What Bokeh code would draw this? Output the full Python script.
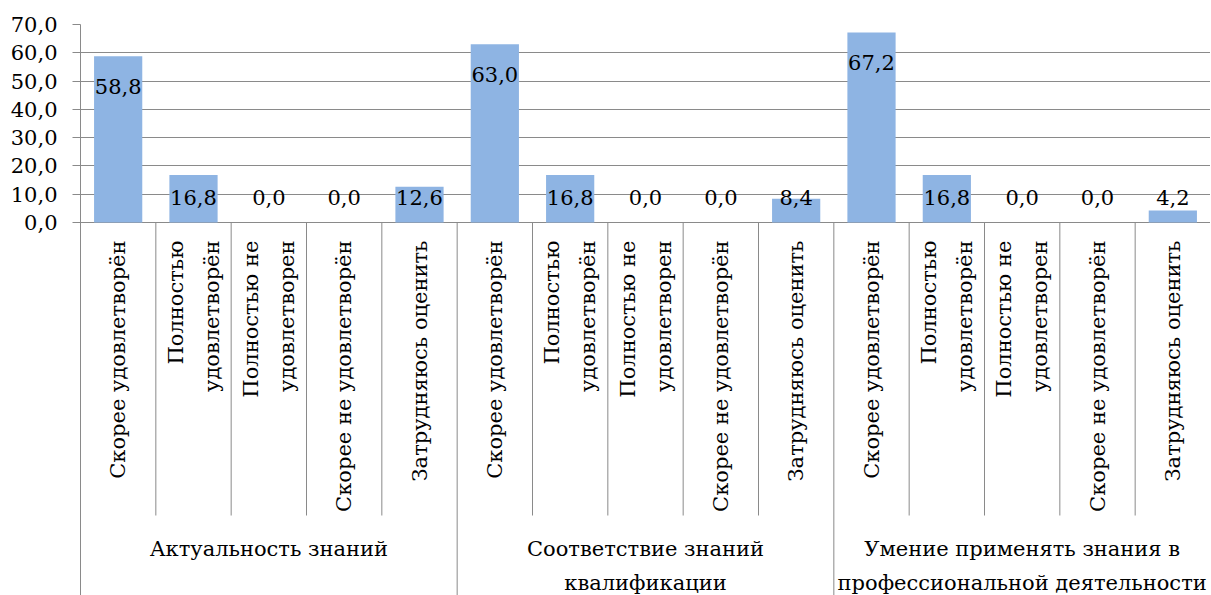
import math
from bokeh.plotting import figure
from bokeh.models import Range1d, FixedTicker, ColumnDataSource
from bokeh.embed import file_html
from bokeh.resources import INLINE
from bokeh.core.properties import value

# ---------------- data ----------------
groups = [
    "Актуальность знаний",
    "Соответствие знаний\nквалификации",
    "Умение применять знания в\nпрофессиональной деятельности",
]
answers = [
    "Скорее удовлетворён",
    "Полностью\nудовлетворён",
    "Полностью не\nудовлетворен",
    "Скорее не удовлетворён",
    "Затрудняюсь оценить",
]
values_aktualnost = [58.8, 16.8, 0.0, 0.0, 12.6]
values_sootvetstvie = [63.0, 16.8, 0.0, 0.0, 8.4]
values_umenie = [67.2, 16.8, 0.0, 0.0, 4.2]
y_ticks = [0, 10, 20, 30, 40, 50, 60, 70]
y_tick_labels = ["0,0", "10,0", "20,0", "30,0", "40,0", "50,0", "60,0", "70,0"]

# ---------------- layout ----------------
W, H = 1210, 595
LEFT, TOP = 80, 24
ZERO_PX = 222
PPU = (ZERO_PX - TOP) / 70.0
Y_MIN = -(H - ZERO_PX) / PPU
FONT_NAME = "DejaVu Serif"
FONT = value(FONT_NAME)
FS = "21px"
BAR_COLOR = "#8EB4E3"
GRID = "#8a8a8a"

all_values = values_aktualnost + values_sootvetstvie + values_umenie
n_per = len(answers)
n = len(all_values)
xs = [i + 0.5 for i in range(n)]
cat_labels = answers * len(groups)
val_text = [f"{v:.1f}".replace(".", ",") for v in all_values]

lab_y, lab_off = [], []
for v in all_values:
    if v * PPU - 30 >= 25:
        lab_y.append(v); lab_off.append(30)
    else:
        lab_y.append(0); lab_off.append(-25)

p = figure(width=W, height=H, output_backend="svg", toolbar_location=None,
           x_range=Range1d(0, n), y_range=Range1d(Y_MIN, 70),
           x_axis_location=None, min_border_left=LEFT, min_border_top=TOP,
           min_border_right=0, min_border_bottom=0)
p.outline_line_color = None
p.background_fill_color = "white"
p.xgrid.visible = False
p.ygrid.ticker = FixedTicker(ticks=y_ticks)
p.ygrid.grid_line_color = GRID
p.ygrid.grid_line_width = 1

ax = p.yaxis[0]
ax.ticker = FixedTicker(ticks=y_ticks)
ax.major_label_overrides = {t: s for t, s in zip(y_ticks, y_tick_labels)}
ax.major_label_text_font = FONT_NAME
ax.major_label_text_font_size = FS
ax.major_label_text_color = "black"
ax.major_label_standoff = 15
ax.major_tick_out = 8
ax.major_tick_in = 0
ax.minor_tick_line_color = None
ax.axis_line_color = GRID
ax.major_tick_line_color = GRID

src = ColumnDataSource(dict(x=xs, top=all_values, txt=val_text,
                            ly=lab_y, loff=lab_off, cat=cat_labels))
p.vbar(x="x", top="top", bottom=0, width=0.64, source=src,
       fill_color=BAR_COLOR, line_color=None)
p.text(x="x", y="ly", text="txt", y_offset="loff", source=src,
       text_font=FONT, text_font_size=FS, text_align="center",
       text_baseline="middle", text_color="black")

inner_bottom = -(293) / PPU
inner_x = [i for i in range(1, n) if i % n_per != 0]
p.segment(x0=inner_x, y0=[0] * len(inner_x), x1=inner_x,
          y1=[inner_bottom] * len(inner_x), line_color=GRID, line_width=1)
grp_x = [i for i in range(n_per, n, n_per)]
p.segment(x0=grp_x, y0=[0] * len(grp_x), x1=grp_x,
          y1=[Y_MIN] * len(grp_x), line_color=GRID, line_width=1)

p.text(x="x", y=-18 / PPU, text="cat", source=src, angle=math.pi / 2,
       text_font=FONT, text_font_size=FS, text_align="right",
       text_baseline="middle", text_color="black", text_line_height=1.5)

gx = [g * n_per + n_per / 2 for g in range(len(groups))]
p.text(x=gx, y=[-314 / PPU] * len(groups), text=groups,
       text_font=FONT, text_font_size=FS, text_align="center",
       text_baseline="top", text_color="black", text_line_height=1.45)

open("out.html", "w").write(file_html(p, INLINE))
